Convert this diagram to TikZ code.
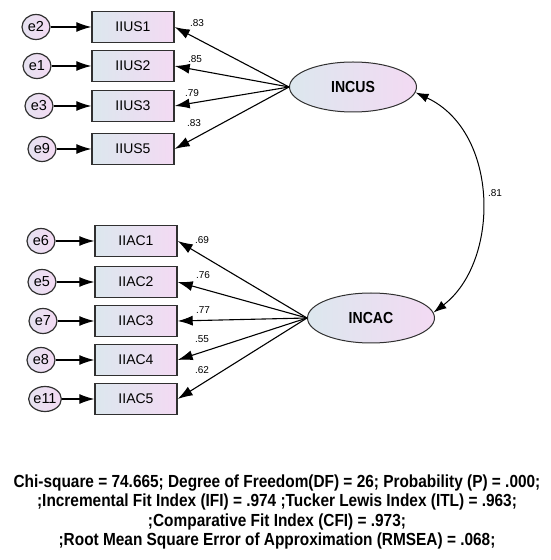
\documentclass[tikz,border=0pt]{standalone}
\usepackage{fontspec}
\setmainfont{Liberation Sans}
\newfontfamily\narrowfont{Liberation Sans}[FakeStretch=0.88]
\usetikzlibrary{positioning, arrows.meta, shapes.geometric}
\definecolor{cleft}{HTML}{DCE7EE}
\definecolor{cright}{HTML}{F3DAF3}
\definecolor{edge}{HTML}{303030}
\tikzset{
obs/.style={draw=edge, line width=1.4pt, rectangle, minimum width=82pt, minimum height=31pt,
  left color=cleft, right color=cright, font=\fontsize{14}{16}\selectfont},
err/.style={draw=edge, line width=1.2pt, ellipse, minimum width=28pt, minimum height=25pt, inner sep=0pt,
  left color=cleft!60!cright, right color=cright, font=\fontsize{14.5}{16}\selectfont},
latent/.style={draw=edge, line width=1pt, ellipse, minimum width=127pt, minimum height=50pt,
  left color=cleft, right color=cright, font=\narrowfont\bfseries\fontsize{16}{18}\selectfont},
load/.style={font=\fontsize{10}{12}\selectfont, inner sep=1pt},
reg/.style={-{Latex[length=15pt,width=10pt]}, line width=1.1pt},
}

\begin{document}
\begin{tikzpicture}[x=1pt, y=1pt]
    \useasboundingbox (0,0) rectangle (550,560);

    %latent factors
    \node[latent] (INCUS) at (353,473) {INCUS};
    \node[latent] (INCAC) at (371,242) {INCAC};

    %items of INCUS
    \node[obs] (IIUS1) at (133,533) {IIUS1};
    \node[obs] (IIUS2) at (133,494) {IIUS2};
    \node[obs] (IIUS3) at (133,454) {IIUS3};
    \node[obs] (IIUS5) at (133,411) {IIUS5};

    %items of INCAC
    \node[obs] (IIAC1) at (136,319) {IIAC1};
    \node[obs] (IIAC2) at (136,278) {IIAC2};
    \node[obs] (IIAC3) at (136,239) {IIAC3};
    \node[obs] (IIAC4) at (136,200) {IIAC4};
    \node[obs] (IIAC5) at (136,161) {IIAC5};

    %error terms
    \node[err] (e2) at (36,533) {e2};
    \node[err] (e1) at (37,494) {e1};
    \node[err] (e3) at (39,454) {e3};
    \node[err] (e9) at (42,411) {e9};
    \node[err] (e6) at (41,319) {e6};
    \node[err] (e5) at (42,278) {e5};
    \node[err] (e7) at (43,239) {e7};
    \node[err] (e8) at (41,200) {e8};
    \node[err] (e11) at (45,161) {e11};

    %errors to items
    \draw[reg] (e2.east)--(IIUS1.west);
    \draw[reg] (e1.east)--(IIUS2.west);
    \draw[reg] (e3.east)--(IIUS3.west);
    \draw[reg] (e9.east)--(IIUS5.west);
    \draw[reg] (e6.east)--(IIAC1.west);
    \draw[reg] (e5.east)--(IIAC2.west);
    \draw[reg] (e7.east)--(IIAC3.west);
    \draw[reg] (e8.east)--(IIAC4.west);
    \draw[reg] (e11.east)--(IIAC5.west);

    %loadings INCUS
    \draw[reg] (INCUS.west)--(IIUS1.east);
    \draw[reg] (INCUS.west)--(IIUS2.east);
    \draw[reg] (INCUS.west)--(IIUS3.east);
    \draw[reg] (INCUS.west)--(IIUS5.east);

    %loadings INCAC
    \draw[reg] (INCAC.west)--(IIAC1.east);
    \draw[reg] (INCAC.west)--(IIAC2.east);
    \draw[reg] (INCAC.west)--(IIAC3.east);
    \draw[reg] (INCAC.west)--(IIAC4.east);
    \draw[reg] (INCAC.west)--(IIAC5.east);

    %loading values
    \node[load] (w1) at (197,537) {.83};
    \node[load] (w2) at (195,501) {.85};
    \node[load] (w3) at (192,467) {.79};
    \node[load] (w5) at (194,437) {.83};
    \node[load] (v1) at (202,320) {.69};
    \node[load] (v2) at (203,285) {.76};
    \node[load] (v3) at (203,250) {.77};
    \node[load] (v4) at (202,221) {.55};
    \node[load] (v5) at (202,190) {.62};

    % covariance
    \draw[{Latex[length=13pt,width=9pt]}-{Latex[length=13pt,width=9pt]}, line width=1pt]
        (INCUS.-5) .. controls (500,428) and (500,298) .. (INCAC.5);
    \node[load] (cov) at (495,367) {.81};

    %fit indices
    \node[align=center, font=\narrowfont\bfseries\fontsize{17.5}{19.3}\selectfont] (fit) at (277,48)
        {Chi-square = 74.665; Degree of Freedom(DF) = 26; Probability (P) = .000;\\
         ;Incremental Fit Index (IFI) = .974 ;Tucker Lewis Index (ITL) = .963;\\
         ;Comparative Fit Index (CFI) = .973;\\
         ;Root Mean Square Error of Approximation (RMSEA) = .068;};
\end{tikzpicture}
\end{document}
